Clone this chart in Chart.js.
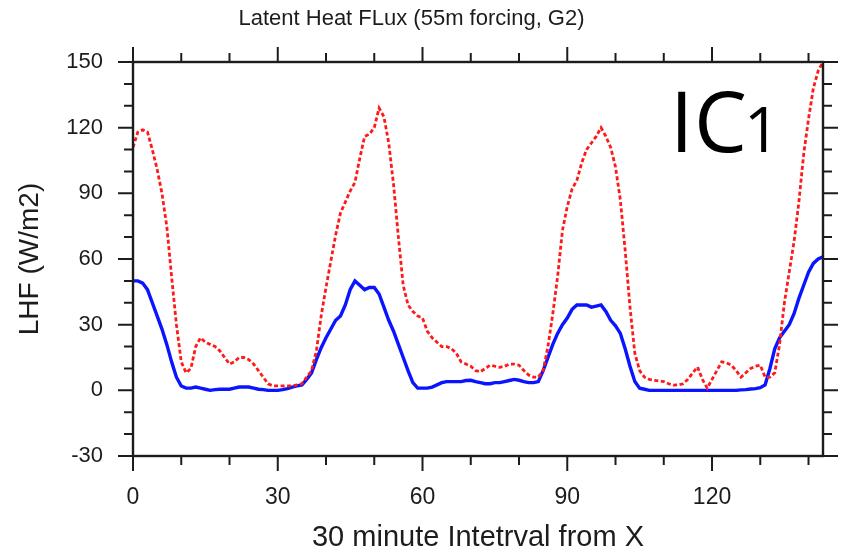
<!DOCTYPE html>
<html>
<head>
<meta charset="utf-8">
<script src="https://cdn.jsdelivr.net/npm/chart.js@4/dist/chart.umd.min.js"></script>
<style>
  html, body { margin: 0; padding: 0; background: #ffffff; }
  #wrap { width: 841px; height: 555px; }
</style>
</head>
<body>
<div id="wrap"><canvas id="c" width="841" height="555"></canvas></div>
<script>
// ---- data (30-minute interval index 0..143) ----
const chartTitle = 'Latent Heat FLux (55m forcing, G2)';
const xAxisTitle = '30 minute Intetrval from X';
const yAxisTitle = 'LHF (W/m2)';
const panelLabel = 'IC1';

const blueLHF = [50,50,49,46,40,34,28,21,13,6,
  2,1,1,1.5,1,0.5,0,0.3,0.5,0.5,
  0.5,1,1.5,1.5,1.5,1,0.5,0.3,0,0,
  0,0.3,0.8,1.5,2,2.5,5,8,14,19.5,
  24,28,32,34,39,46,50,48,46,47,
  47,44,38,32,27,21,15,9,3.5,1,
  1,1,1.5,2.5,3.5,4,4,4,4,4.5,
  4.6,4,3.5,3,3,3.5,3.5,4,4.5,5,
  4.6,4,3.5,3.5,4,9,15,21,26,30,
  33,37,39,39,39,38,38.5,39,36,32,
  29.5,26,19,11,4,1,0.5,0,0,0,
  0,0,0,0,0,0,0,0,0,0,
  0,0,0,0,0,0,0.2,0.3,0.6,0.8,
  1.2,2.5,10,19,24,27,30,35,42,48,
  54,58,60,61];

const redLHF = [111,118,119,118,110,101,90,75,52,30,
  13,8,10,20,24,22,21,20,18,15,
  12,13,15,15,14,12,9,6,3,2,
  2,2,2,2,2.5,3,6,9,18,34,
  47,59,71,81,86,91,95,106,116,117,
  120,129,125,113,94,70,48,39,36,34,
  33,27,24,22,20,20,19,17,13,12,
  11,9,8.5,10,11.5,11,10.5,11,12,12,
  11.5,9,7,6,6,9,20,35,52,73,
  84,92,96,104,110,113,116,120,116,111,
  102,87,64,38,17,9,6,5,4.6,4.3,
  4,3,2.4,2.5,3,5,8,10.7,5,1,
  5,9,13,12.5,11.5,9,6,8,10,11,
  11.5,6,6,8,21,40,54,68,86,108,
  124,138,146,150];

const xMajorTicks = [0,30,60,90,120];
const xMinorTicks = [10,20,40,50,70,80,100,110,130,140];
const yMajorTicks = [-30,0,30,60,90,120,150];
const yMinorTicks = [-20,-10,10,20,40,50,70,80,100,110,130,140];

const toPoints = arr => arr.map((v, i) => ({ x: i, y: v }));

const FONT = '"Liberation Sans", Arial, Helvetica, sans-serif';
const INK = '#1c1c1c';

const framePlugin = {
  id: 'frameTicks',
  afterDatasetsDraw(chart) {
    const { ctx, chartArea: { left, right, top, bottom }, scales: { x, y } } = chart;
    ctx.save();
    ctx.strokeStyle = INK;
    ctx.lineWidth = 2;
    ctx.beginPath();
    const MAJ = 15, MIN = 9;
    xMajorTicks.forEach(v => {
      const p = x.getPixelForValue(v);
      ctx.moveTo(p, bottom); ctx.lineTo(p, bottom + MAJ);
      ctx.moveTo(p, top); ctx.lineTo(p, top - MAJ);
    });
    xMinorTicks.forEach(v => {
      const p = x.getPixelForValue(v);
      ctx.moveTo(p, bottom); ctx.lineTo(p, bottom + MIN);
      ctx.moveTo(p, top); ctx.lineTo(p, top - MIN);
    });
    yMajorTicks.forEach(v => {
      const p = y.getPixelForValue(v);
      ctx.moveTo(left, p); ctx.lineTo(left - MAJ, p);
      ctx.moveTo(right, p); ctx.lineTo(right + MAJ, p);
    });
    yMinorTicks.forEach(v => {
      const p = y.getPixelForValue(v);
      ctx.moveTo(left, p); ctx.lineTo(left - MIN, p);
      ctx.moveTo(right, p); ctx.lineTo(right + MIN, p);
    });
    ctx.stroke();
    ctx.lineWidth = 2.4;
    ctx.strokeRect(left, top, right - left, bottom - top);
    ctx.restore();
  },
  afterDraw(chart) {
    const { ctx } = chart;
    ctx.save();
    ctx.fillStyle = '#000';
    ctx.textBaseline = 'alphabetic';
    ctx.textAlign = 'left';
    ctx.font = '84px "Open Sans", "Noto Sans", sans-serif';
    ctx.fillText(panelLabel.slice(0, 1), 670, 152);
    ctx.fillText(panelLabel.slice(1, 2), 694, 152);
    ctx.font = '63px "Open Sans", "Noto Sans", sans-serif';
    ctx.fillText(panelLabel.slice(2), 744, 152);
    ctx.restore();
  }
};

new Chart(document.getElementById('c'), {
  type: 'line',
  data: {
    datasets: [
      {
        label: 'dotted',
        data: toPoints(redLHF),
        borderColor: '#ff1a1a',
        borderWidth: 2.8,
        borderDash: [4, 2.5],
        pointRadius: 0,
        tension: 0,
        fill: false
      },
      {
        label: 'solid',
        data: toPoints(blueLHF),
        borderColor: '#0a14ff',
        borderWidth: 3.4,
        pointRadius: 0,
        tension: 0,
        fill: false
      }
    ]
  },
  options: {
    responsive: false,
    animation: false,
    devicePixelRatio: 1,
    layout: { padding: { left: 0, right: 18, top: 0, bottom: 0 } },
    plugins: {
      legend: { display: false },
      tooltip: { enabled: false },
      title: {
        display: true,
        text: chartTitle,
        color: INK,
        font: { family: FONT, size: 22, weight: 'normal' },
        padding: { top: 6, bottom: 29.6 }
      }
    },
    scales: {
      x: {
        type: 'linear',
        min: 0,
        max: 143,
        afterBuildTicks: s => { s.ticks = xMajorTicks.map(v => ({ value: v })); },
        afterFit: s => { s.height = 99; },
        grid: { display: false, drawTicks: true, tickLength: 15 },
        border: { display: false },
        ticks: { color: INK, font: { family: FONT, size: 23 }, padding: 13, maxRotation: 0, autoSkip: false },
        title: { display: true, text: xAxisTitle, color: INK, font: { family: FONT, size: 29 }, padding: { top: 0, bottom: 0 } }
      },
      y: {
        type: 'linear',
        min: -30,
        max: 150,
        afterBuildTicks: s => { s.ticks = yMajorTicks.map(v => ({ value: v })); },
        afterFit: s => { s.width = 133; },
        grid: { display: false, drawTicks: true, tickLength: 15 },
        border: { display: false },
        ticks: { color: INK, font: { family: FONT, size: 22 }, padding: 15, autoSkip: false },
        title: { display: true, text: yAxisTitle, color: INK, font: { family: FONT, size: 28 }, padding: { top: 13, bottom: 0 } }
      }
    }
  },
  plugins: [framePlugin]
});
</script>
</body>
</html>
